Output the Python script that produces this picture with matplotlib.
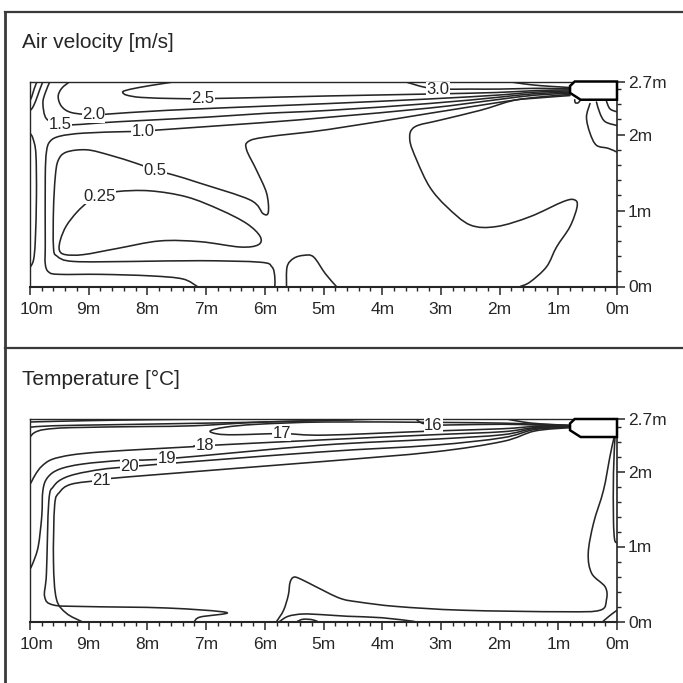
import numpy as np
import matplotlib
matplotlib.use("Agg")
import matplotlib.pyplot as plt
from matplotlib.lines import Line2D
from matplotlib.path import Path
from matplotlib.patches import PathPatch
from matplotlib.transforms import offset_copy

plt.rcParams['font.family'] = ['Liberation Sans', 'DejaVu Sans']

# ---------------------------------------------------------------------------
# Data: contour lines as (distance from wall [m], height [m])
# ---------------------------------------------------------------------------
x_ticks = [10, 9, 8, 7, 6, 5, 4, 3, 2, 1, 0]
x_tick_labels = ["10m", "9m", "8m", "7m", "6m", "5m", "4m", "3m", "2m", "1m", "0m"]
y_ticks = [0, 1, 2, 2.7]
y_tick_labels = ["0m", "1m", "2m", "2.7m"]

# diffuser outline (same unit in both panels)
diffuser_x = [0.0, 0.72, 0.80, 0.80, 0.62, 0.0]
diffuser_y = [2.70, 2.70, 2.64, 2.55, 2.46, 2.46]

# ---- air velocity [m/s] ----
vel_30_x = [3.62, 3.45, 3.25, 3.0, 2.5, 2.0, 1.4, 1.1, 0.8]
vel_30_y = [2.70, 2.66, 2.62, 2.60, 2.60, 2.60, 2.61, 2.607, 2.605]
vel_ceil_x = [1.85, 1.6, 1.3, 1.0, 0.8]
vel_ceil_y = [2.70, 2.67, 2.645, 2.63, 2.62]
vel_25_x = [7.50, 7.80, 8.15, 8.38, 8.42, 8.35, 8.10, 7.50, 7.00, 6.00, 4.90, 3.20, 2.05, 1.40, 0.80]
vel_25_y = [2.70, 2.665, 2.62, 2.58, 2.555, 2.52, 2.49, 2.475, 2.475, 2.49, 2.51, 2.535, 2.555, 2.58, 2.59]
vel_20_x = [9.32, 9.46, 9.52, 9.46, 9.29, 8.92, 8.69, 7.67, 6.00, 4.90, 3.20, 2.05, 1.40, 0.80]
vel_20_y = [2.70, 2.61, 2.50, 2.37, 2.29, 2.26, 2.27, 2.32, 2.375, 2.41, 2.47, 2.52, 2.56, 2.575]
vel_15_x = [9.66, 9.74, 9.78, 9.72, 9.49, 9.26, 8.50, 7.00, 6.00, 4.90, 3.20, 2.05, 1.40, 0.80]
vel_15_y = [2.70, 2.55, 2.41, 2.21, 2.14, 2.13, 2.17, 2.23, 2.28, 2.32, 2.41, 2.49, 2.54, 2.56]
vel_10_x = [7.15, 7.40, 7.95, 8.80, 9.50, 9.68, 9.74, 9.74, 9.74, 9.72, 9.66, 9.49, 9.09, 8.35,
            8.07, 7.84, 6.00, 4.90, 3.20, 2.05, 1.40, 0.80]
vel_10_y = [0.0, 0.10, 0.14, 0.16, 0.16, 0.19, 0.30, 0.57, 1.44, 1.77, 1.91, 1.98, 2.02, 2.04,
            2.04, 2.06, 2.16, 2.23, 2.35, 2.46, 2.52, 2.545]
vel_05_x = [5.83, 5.83, 5.88, 6.08, 7.10, 8.24, 9.26, 9.54, 9.60, 9.60, 9.57, 9.52, 9.38, 9.03,
            8.64, 8.18, 7.87, 7.56, 7.10, 6.25, 6.03, 5.94, 5.97, 6.14, 6.31, 6.28, 5.97, 4.90,
            3.20, 2.05, 1.40, 0.80]
vel_05_y = [0.0, 0.13, 0.26, 0.32, 0.34, 0.33, 0.33, 0.40, 0.52, 1.01, 1.44, 1.66, 1.77, 1.80,
            1.73, 1.62, 1.53, 1.47, 1.36, 1.14, 0.96, 0.98, 1.23, 1.53, 1.80, 1.91, 1.97, 2.07,
            2.28, 2.42, 2.49, 2.53]
vel_025_x = [8.81, 8.52, 7.96, 7.33, 6.76, 6.31, 6.08, 6.11, 6.42, 7.10, 7.79, 8.52, 9.09,
             9.40, 9.50, 9.48, 9.38, 9.20, 9.00, 8.81]
vel_025_y = [1.19, 1.25, 1.26, 1.18, 1.01, 0.83, 0.66, 0.55, 0.52, 0.59, 0.60, 0.50, 0.42,
             0.42, 0.48, 0.62, 0.80, 0.98, 1.12, 1.19]
vel_room_x = [0.80, 1.40, 1.77, 2.33, 3.02, 3.45, 3.53, 3.41, 3.19, 2.90, 2.50, 2.05, 1.48,
              0.91, 0.72, 0.68, 0.80, 1.03, 1.20, 1.48, 1.65]
vel_room_y = [2.515, 2.48, 2.45, 2.32, 2.19, 2.10, 1.93, 1.66, 1.31, 1.05, 0.81, 0.79, 0.92,
              1.12, 1.14, 1.05, 0.79, 0.52, 0.26, 0.06, 0.0]
vel_floor_x = [5.63, 5.62, 5.51, 5.34, 5.17, 4.97, 4.78]
vel_floor_y = [0.0, 0.26, 0.37, 0.41, 0.39, 0.17, 0.0]
vel_wall_x = [10.0, 9.95, 9.90, 9.89, 9.91, 9.94, 10.0]
vel_wall_y = [2.02, 1.95, 1.75, 1.20, 0.60, 0.35, 0.25]
vel_corner1_x = [9.88, 9.93, 9.97, 10.0]
vel_corner1_y = [2.70, 2.60, 2.50, 2.45]
vel_corner2_x = [9.78, 9.84, 9.90, 9.96, 10.0]
vel_corner2_y = [2.70, 2.58, 2.45, 2.35, 2.32]
vel_outlet1_x = [0.46, 0.52, 0.46, 0.35, 0.15, 0.0]
vel_outlet1_y = [2.41, 2.23, 2.02, 1.86, 1.82, 1.77]
vel_outlet2_x = [0.35, 0.29, 0.20, 0.0]
vel_outlet2_y = [2.43, 2.28, 2.17, 2.12]
vel_outlet3_x = [0.18, 0.12, 0.0]
vel_outlet3_y = [2.44, 2.34, 2.30]
vel_bump_x = [0.72, 0.71, 0.66, 0.62]
vel_bump_y = [2.46, 2.42, 2.42, 2.46]

vel_label_text = ["3.0", "2.5", "2.0", "1.5", "1.0", "0.5", "0.25"]
vel_label_x = [3.05, 7.05, 8.92, 9.49, 8.07, 7.87, 8.81]
vel_label_y = [2.595, 2.475, 2.26, 2.14, 2.04, 1.53, 1.19]

# ---- temperature [deg C] ----
tmp_16_x = [3.42, 3.38, 3.30, 3.13, 2.90, 1.95, 1.40, 0.80]
tmp_16_y = [2.70, 2.67, 2.64, 2.62, 2.62, 2.63, 2.62, 2.61]
tmp_ceil_x = [1.88, 1.60, 1.30, 0.80]
tmp_ceil_y = [2.70, 2.66, 2.635, 2.615]
tmp_17_x = [0.80, 1.40, 1.95, 3.13, 4.97, 6.12, 6.68, 6.93, 6.80, 6.50, 5.71, 4.97, 3.13, 1.95, 1.40, 0.80]
tmp_17_y = [2.615, 2.63, 2.645, 2.655, 2.66, 2.63, 2.59, 2.54, 2.50, 2.49, 2.505, 2.485, 2.54, 2.57, 2.60, 2.605]
tmp_18_x = [10.0, 9.97, 9.90, 9.80, 9.63, 9.30, 8.80, 7.96, 7.25, 7.02, 5.06, 3.13, 1.95, 1.40, 0.80]
tmp_18_y = [1.83, 1.87, 1.97, 2.07, 2.16, 2.22, 2.26, 2.30, 2.33, 2.345, 2.42, 2.49, 2.53, 2.585, 2.60]
tmp_19_x = [10.0, 9.95, 9.86, 9.80, 9.78, 9.70, 9.50, 9.10, 8.40, 7.67, 5.06, 3.13, 1.95, 1.40, 0.80]
tmp_19_y = [0.70, 0.78, 1.00, 1.40, 1.75, 1.92, 2.03, 2.10, 2.15, 2.17, 2.35, 2.43, 2.49, 2.575, 2.595]
tmp_20_x = [7.20, 7.10, 6.65, 7.67, 9.09, 9.60, 9.75, 9.72, 9.68, 9.60, 9.40, 9.00, 8.30, 5.06, 3.13, 1.95, 1.40, 0.80]
tmp_20_y = [0.0, 0.06, 0.12, 0.18, 0.20, 0.22, 0.33, 0.64, 1.60, 1.80, 1.92, 2.00, 2.065, 2.26, 2.35, 2.45, 2.56, 2.59]
tmp_21_x = [9.12, 9.38, 9.55, 9.60, 9.58, 9.50, 9.30, 8.78, 8.30, 5.06, 3.13, 1.95, 1.40, 0.80]
tmp_21_y = [0.0, 0.11, 0.30, 0.80, 1.55, 1.72, 1.83, 1.885, 1.93, 2.13, 2.26, 2.40, 2.54, 2.585]
tmp_room_x = [0.04, 0.06, 0.12, 0.23, 0.40, 0.49, 0.43, 0.20, 0.18, 0.29, 0.91, 2.62, 3.75, 4.40,
              4.72, 5.12, 5.40, 5.51, 5.57, 5.60, 5.68, 5.80]
tmp_room_y = [2.47, 2.42, 2.20, 1.75, 1.31, 0.91, 0.64, 0.46, 0.29, 0.15, 0.13, 0.15, 0.20, 0.26,
              0.31, 0.46, 0.57, 0.59, 0.52, 0.35, 0.15, 0.0]
tmp_wall_r_x = [0.034, 0.06, 0.06, 0.04, 0.0]
tmp_wall_r_y = [2.46, 1.98, 1.35, 1.09, 1.05]
tmp_corner_r_x = [0.24, 0.12, 0.0]
tmp_corner_r_y = [0.0, 0.08, 0.15]
tmp_floor_x = [5.75, 5.60, 5.35, 5.00, 4.60, 4.00, 3.45]
tmp_floor_y = [0.0, 0.07, 0.10, 0.09, 0.07, 0.05, 0.0]
tmp_floor2_x = [5.45, 5.35, 5.20, 5.10]
tmp_floor2_y = [0.0, 0.03, 0.025, 0.0]
tmp_top1_x = [10.0, 9.5, 8.5, 7.5, 7.0]
tmp_top1_y = [2.66, 2.67, 2.685, 2.695, 2.70]
tmp_top2_x = [10.0, 9.6, 8.5, 7.0, 6.0, 5.0, 4.0]
tmp_top2_y = [2.59, 2.61, 2.625, 2.645, 2.66, 2.68, 2.70]
tmp_top3_x = [10.0, 9.92, 9.75, 9.30, 8.00, 7.20, 6.00, 4.50]
tmp_top3_y = [2.46, 2.52, 2.56, 2.585, 2.60, 2.61, 2.66, 2.69]

tmp_label_text = ["16", "17", "18", "19", "20", "21"]
tmp_label_x = [3.13, 5.71, 7.02, 7.67, 8.30, 8.78]
tmp_label_y = [2.62, 2.505, 2.345, 2.17, 2.065, 1.885]

LINE = "#262626"
TEXT = "#262626"


def smooth_path(xs, ys):
    # Catmull-Rom through the read points, written as cubic Bezier segments
    p = np.column_stack([xs, ys]).astype(float)
    closed = np.allclose(p[0], p[-1]) and len(p) > 3
    n = len(p)
    verts = [p[0]]
    codes = [Path.MOVETO]
    for i in range(n - 1):
        if closed:
            prev = p[i - 1] if i > 0 else p[-2]
            nxt = p[i + 2] if i + 2 < n else p[1]
        else:
            prev = p[max(i - 1, 0)]
            nxt = p[min(i + 2, n - 1)]
        c1 = p[i] + (p[i + 1] - prev) / 6.0
        c2 = p[i + 1] - (nxt - p[i]) / 6.0
        verts += [c1, c2, p[i + 1]]
        codes += [Path.CURVE4] * 3
    return Path(verts, codes)


def setup_axes(ax):
    ax.set_xlim(10, 0)
    ax.set_ylim(0, 2.7)
    ax.yaxis.tick_right()
    ax.set_xticks(x_ticks)
    ax.set_xticklabels(x_tick_labels)
    ax.set_xticks(np.arange(0, 10.01, 0.2), minor=True)
    ax.set_yticks(y_ticks)
    ax.set_yticklabels(y_tick_labels)
    ax.set_yticks(np.arange(0.2, 2.61, 0.2), minor=True)
    ax.tick_params(which="major", direction="out", length=5.5, width=1.1,
                   colors=LINE, labelsize=12.5, labelcolor=TEXT)
    ax.tick_params(axis="x", which="major", pad=5.5)
    ax.tick_params(axis="y", which="major", pad=2.5)
    ax.tick_params(which="minor", direction="out", length=3, width=1.0, colors=LINE)
    for side, sp in ax.spines.items():
        sp.set_color(LINE)
        sp.set_linewidth(1.0)
    ax.spines["bottom"].set_linewidth(1.5)
    ax.spines["right"].set_linewidth(1.2)
    # the first label sits right of its tick so it stays inside the frame
    first = ax.get_xticklabels()[0]
    first.set_transform(offset_copy(first.get_transform(), fig=ax.figure, x=7, units="dots"))


def draw_line(ax, xs, ys):
    ax.add_patch(PathPatch(smooth_path(xs, ys), facecolor="none", edgecolor=LINE,
                           lw=1.15, joinstyle="round", capstyle="round"))


def draw_labels(ax, texts, xs, ys):
    for s, x, y in zip(texts, xs, ys):
        ax.text(x, y, s, ha="center", va="center", fontsize=12, color=TEXT, zorder=5,
                bbox=dict(facecolor="white", edgecolor="none", pad=0.3))


def draw_diffuser(ax):
    ax.fill(diffuser_x, diffuser_y, facecolor="white", edgecolor="black",
            lw=1.8, zorder=6, clip_on=False)


fig = plt.figure(figsize=(6.83, 6.83), dpi=100)

ax1 = fig.add_axes([30 / 683, 1 - 286.5 / 683, 587 / 683, 205 / 683])
ax2 = fig.add_axes([30 / 683, 1 - 621.5 / 683, 587 / 683, 202.5 / 683])

setup_axes(ax1)
setup_axes(ax2)

vel_lines = [
    (vel_30_x, vel_30_y), (vel_ceil_x, vel_ceil_y), (vel_25_x, vel_25_y),
    (vel_20_x, vel_20_y), (vel_15_x, vel_15_y), (vel_10_x, vel_10_y),
    (vel_05_x, vel_05_y), (vel_025_x, vel_025_y), (vel_room_x, vel_room_y),
    (vel_floor_x, vel_floor_y), (vel_wall_x, vel_wall_y),
    (vel_corner1_x, vel_corner1_y), (vel_corner2_x, vel_corner2_y),
    (vel_outlet1_x, vel_outlet1_y), (vel_outlet2_x, vel_outlet2_y),
    (vel_outlet3_x, vel_outlet3_y), (vel_bump_x, vel_bump_y),
]
for xs, ys in vel_lines:
    draw_line(ax1, xs, ys)
draw_labels(ax1, vel_label_text, vel_label_x, vel_label_y)
draw_diffuser(ax1)

tmp_lines = [
    (tmp_16_x, tmp_16_y), (tmp_ceil_x, tmp_ceil_y), (tmp_17_x, tmp_17_y),
    (tmp_18_x, tmp_18_y), (tmp_19_x, tmp_19_y), (tmp_20_x, tmp_20_y),
    (tmp_21_x, tmp_21_y), (tmp_room_x, tmp_room_y), (tmp_wall_r_x, tmp_wall_r_y),
    (tmp_corner_r_x, tmp_corner_r_y), (tmp_floor_x, tmp_floor_y),
    (tmp_floor2_x, tmp_floor2_y), (tmp_top1_x, tmp_top1_y),
    (tmp_top2_x, tmp_top2_y), (tmp_top3_x, tmp_top3_y),
]
for xs, ys in tmp_lines:
    draw_line(ax2, xs, ys)
draw_labels(ax2, tmp_label_text, tmp_label_x, tmp_label_y)
draw_diffuser(ax2)

# panel titles
fig.text(22 / 683, 1 - 48 / 683, "Air velocity [m/s]", fontsize=15, color=TEXT, va="baseline")
fig.text(22 / 683, 1 - 385 / 683, "Temperature [°C]", fontsize=15, color=TEXT, va="baseline")

# panel frames
frame = "#3a3a3a"
fig.add_artist(Line2D([5 / 683, 5 / 683], [0, 1 - 12 / 683], color=frame, lw=2.0))
fig.add_artist(Line2D([5 / 683, 1], [1 - 12 / 683, 1 - 12 / 683], color=frame, lw=1.6))
fig.add_artist(Line2D([5 / 683, 1], [1 - 348 / 683, 1 - 348 / 683], color=frame, lw=1.6))

fig.savefig("out.png", dpi=100, facecolor="white")
